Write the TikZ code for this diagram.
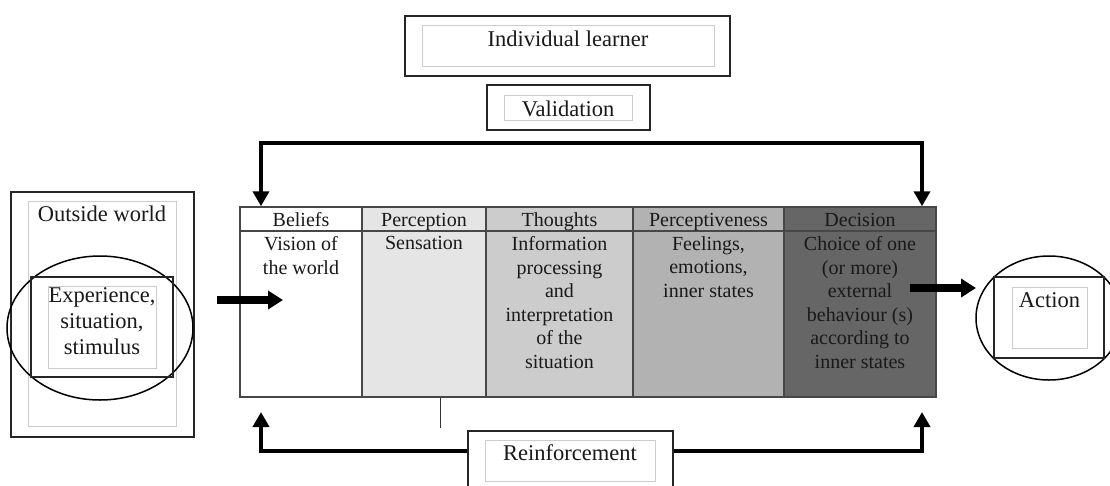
\documentclass[tikz,border=0pt]{standalone}
\usepackage{fontspec}
\setmainfont{Liberation Serif}
\usetikzlibrary{arrows.meta,shapes.geometric}
\newcommand\biglbl{\fontsize{22.5}{26}\selectfont}
\newcommand\tabfont{\fontsize{20}{23.6}\selectfont}
\begin{document}
\begin{tikzpicture}[x=1pt,y=-1pt,
  obox/.style={draw=black!85, line width=2pt, inner sep=0pt, rectangle},
  ibox/.style={draw=black!20, line width=1pt, inner sep=0pt, rectangle},
  cell/.style={draw=black!72, line width=1.5pt, inner sep=0pt, rectangle},
  lbl/.style={font=\biglbl, inner sep=0pt, anchor=base, text=black!90},
  hlbl/.style={font=\tabfont, inner sep=0pt, anchor=base, text=black!90},
  body/.style={font=\tabfont, inner sep=0pt, anchor=north, align=center, text=black!90},
  ell/.style={draw=black, line width=1.5pt, ellipse, inner sep=0pt},
  conn/.style={draw=black, line width=4pt, line join=miter},
  tip/.style={-{Triangle[length=15pt,width=16pt]}},
  block/.style={draw=black, line width=8pt, -{Triangle[length=15pt,width=18pt]}}
]
\useasboundingbox[fill=white] (0,0) rectangle (1110,485);

% Top boxes
\node[obox, minimum width=325pt, minimum height=60pt] (learnerO) at (567.5,46) {};
\node[ibox, minimum width=292pt, minimum height=41pt] (learnerI) at (568,45.5) {};
\node[lbl] (learnerT) at (568,46) {Individual learner};
\node[obox, minimum width=163pt, minimum height=45pt] (validO) at (568.5,107.5) {};
\node[ibox, minimum width=128pt, minimum height=25pt] (validI) at (568,107.5) {};
\node[lbl] (validT) at (568,116) {Validation};

% Outside world
\node[obox, minimum width=183pt, minimum height=245pt] (outO) at (102.5,314.5) {};
\node[ibox, minimum width=148pt, minimum height=225pt] (outI) at (102,313.5) {};
\node[lbl] (outT) at (102,221) {Outside world};
\node[ell, minimum width=186pt, minimum height=144pt] (outE) at (100,328) {};
\node[obox, minimum width=142pt, minimum height=100pt] (expO) at (102,327) {};
\node[ibox, minimum width=108pt, minimum height=82pt] (expI) at (102,327) {};
\node[body, font=\biglbl, text width=110pt] (expT) at (102,287.5) {Experience,\\situation,\\stimulus};

% Table headers
\node[cell, fill=white,      minimum width=122pt, minimum height=24pt] (h1) at (301,219) {};
\node[cell, fill=black!10,   minimum width=124pt, minimum height=24pt] (h2) at (424,219) {};
\node[cell, fill=black!20,   minimum width=147pt, minimum height=24pt] (h3) at (559.5,219) {};
\node[cell, fill=black!30,   minimum width=151pt, minimum height=24pt] (h4) at (708.5,219) {};
\node[cell, fill=black!60,   minimum width=152pt, minimum height=24pt] (h5) at (860,219) {};
% Table bodies
\node[cell, fill=white,      minimum width=122pt, minimum height=166pt] (b1) at (301,314) {};
\node[cell, fill=black!10,   minimum width=124pt, minimum height=166pt] (b2) at (424,314) {};
\node[cell, fill=black!20,   minimum width=147pt, minimum height=166pt] (b3) at (559.5,314) {};
\node[cell, fill=black!30,   minimum width=151pt, minimum height=166pt] (b4) at (708.5,314) {};
\node[cell, fill=black!60,   minimum width=152pt, minimum height=166pt] (b5) at (860,314) {};

\node[hlbl] (h1t) at (301,226) {Beliefs};
\node[hlbl] (h2t) at (424,226) {Perception};
\node[hlbl] (h3t) at (559.5,226) {Thoughts};
\node[hlbl] (h4t) at (708.5,226) {Perceptiveness};
\node[hlbl] (h5t) at (860,226) {Decision};

\node[body] (b1t) at (301,236.3) {Vision of\\the world};
\node[body] (b2t) at (424,236.3) {Sensation};
\node[body] (b3t) at (559.5,236.3) {Information\\processing\\and\\interpretation\\of the\\situation};
\node[body] (b4t) at (708.5,236.3) {Feelings,\\emotions,\\inner states};
\node[body] (b5t) at (860,236.3) {Choice of one\\(or more)\\external\\behaviour (s)\\according to\\inner states};

% Action
\node[ell, minimum width=146pt, minimum height=124pt] (actE) at (1049,318) {};
\node[obox, minimum width=110pt, minimum height=81pt] (actO) at (1049,317.5) {};
\node[ibox, minimum width=75pt, minimum height=61pt] (actI) at (1049.5,317.5) {};
\node[lbl] (actT) at (1049.5,307) {Action};

% Reinforcement
\node[obox, fill=white, minimum width=205pt, minimum height=64pt] (reinO) at (570.5,463) {};
\node[ibox, minimum width=170pt, minimum height=41pt] (reinI) at (570,460.5) {};
\node[lbl] (reinT) at (570,460) {Reinforcement};

% Coordinates for connectors
\coordinate (vL) at (261,143);
\coordinate (vR) at (922,143);
\coordinate (bL) at (261,451);
\coordinate (bR) at (922,451);
\coordinate (tipL) at (261,412);
\coordinate (tipR) at (922,412);
\coordinate (tline) at (440,428);
\coordinate (a1s) at (217,300);
\coordinate (a1e) at (283,300);
\coordinate (a2s) at (910,288);
\coordinate (a2e) at (976,288);

% Validation loop
\draw[conn, {Triangle[length=15pt,width=16pt]}-{Triangle[length=15pt,width=16pt]}]
  (vL |- h1.north) -- (vL) -- (vR) -- (vR |- h5.north);
% Reinforcement loop
\draw[conn, tip] (reinO.west |- bL) -- (bL) -- (tipL);
\draw[conn, tip] (reinO.east |- bR) -- (bR) -- (tipR);
\draw[line width=1pt, black!80] (b2.south -| tline) -- (tline);

% Block arrows
\draw[block] (a1s) -- (a1e);
\draw[block] (a2s) -- (a2e);
\end{tikzpicture}
\end{document}
